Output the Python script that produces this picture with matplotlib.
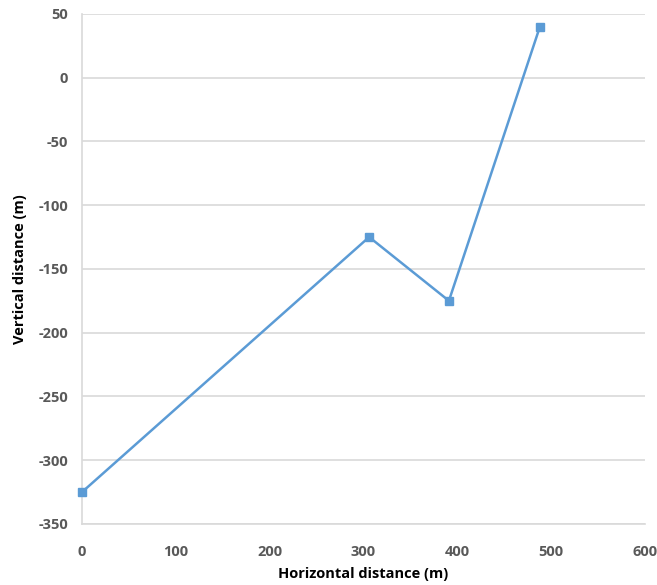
import matplotlib
matplotlib.use("Agg")
import matplotlib.pyplot as plt

horiz = [0, 306, 391, 488]
vert = [-325, -125, -175, 40]

x_ticks = [0, 100, 200, 300, 400, 500, 600]
y_ticks = [-350, -300, -250, -200, -150, -100, -50, 0, 50]

plt.rcParams['font.family'] = ['Open Sans', 'DejaVu Sans']
plt.rcParams['axes.unicode_minus'] = False

fig = plt.figure(figsize=(6.57, 5.85), dpi=100)
ax = fig.add_axes([0.1248, 0.1043, 0.857, 0.872])

ax.plot(horiz, vert, color='#5b9bd5', linewidth=1.8, marker='s',
        markersize=6, clip_on=False, zorder=3)

ax.set_xlim(0, 600)
ax.set_ylim(-350, 50)
ax.set_xticks(x_ticks)
ax.set_yticks(y_ticks)
ax.yaxis.grid(True, color='#d9d9d9', linewidth=1.2)
ax.set_axisbelow(True)

for s in ['top', 'right']:
    ax.spines[s].set_visible(False)
for s in ['left', 'bottom']:
    ax.spines[s].set_color('#d9d9d9')
    ax.spines[s].set_linewidth(1.2)

ax.tick_params(length=0, labelsize=10.5, labelcolor='#595959')
ax.tick_params(axis='x', pad=15)
ax.tick_params(axis='y', pad=10)
for lbl in ax.get_xticklabels() + ax.get_yticklabels():
    lbl.set_fontweight('bold')

ax.set_xlabel("Horizontal distance (m)", fontsize=10.5, fontweight='bold',
              labelpad=6)
ax.set_ylabel("Vertical distance (m)", fontsize=10.5, fontweight='bold',
              labelpad=8)

fig.savefig("out.png", dpi=100)
